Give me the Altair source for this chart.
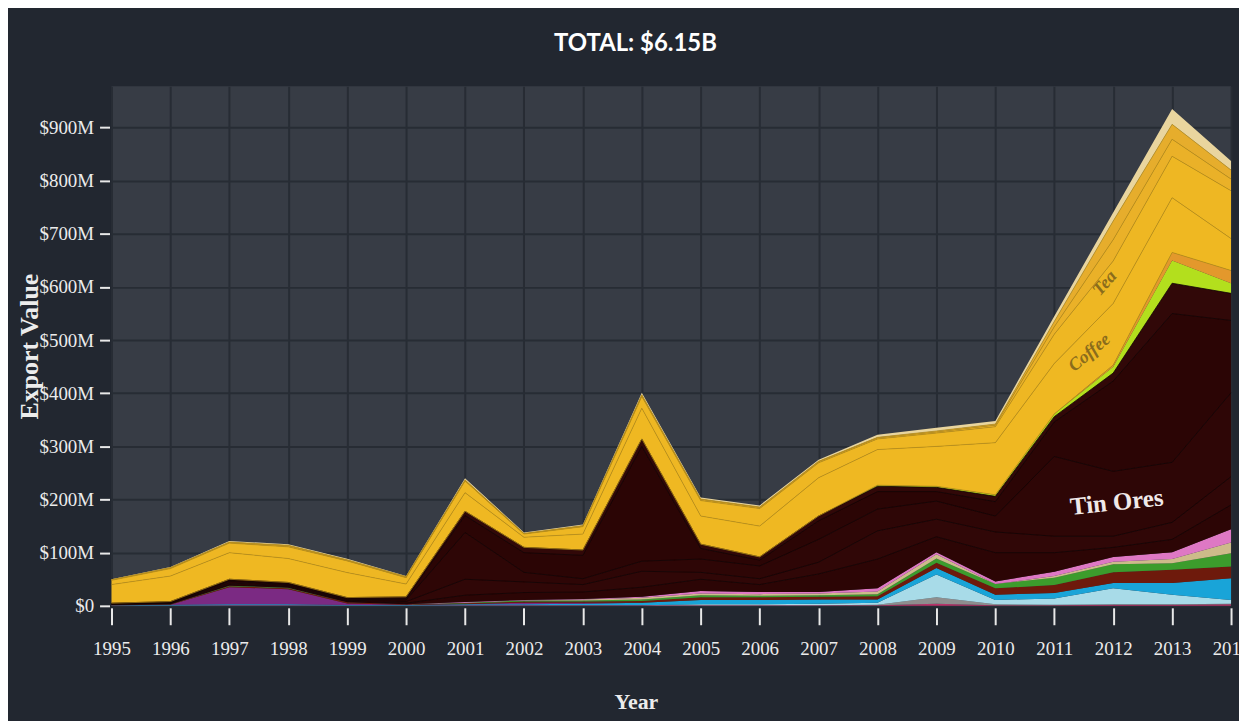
import altair as alt
import pandas as pd

years = list(range(1995, 2015))

# ---- series (bottom -> top of the stack), values in $M ----
series_names = [
    "Hides and Skins", "Scrap Metal", "Electrical Machinery", "Refined Petroleum",
    "Pyrethrum Extract", "Beer", "Live Animals", "Vegetables", "Cut Flowers",
    "Niobium, Tantalum, Vanadium and Zirconium Ores", "Tungsten Ores", "Tin Ores",
    "Gold", "Other Ores",
    "Wheat Flours", "Dried Legumes", "Coffee", "Tea",
    "Other Agricultural", "Other Foodstuffs", "Raw Sugar",
]
series_colors = [
    "#b8336a", "#8e8e8e", "#a8dbe8", "#19a4d8",
    "#7b2a83", "#6e1a0c", "#3c9c2c", "#cdbb8a", "#de78c4",
    "#2c0505", "#300707", "#2e0606", "#2b0505", "#310808",
    "#b3df1d", "#e3982c", "#efb822", "#eeb723",
    "#eab128", "#e6ad2c", "#e9d59e",
]

hides       = [0.5, 0.5, 1, 1, 0.5, 0.5, 1, 1, 1, 1, 1, 1, 1, 1, 4, 1, 1, 2, 2, 3]
scrap       = [0, 0, 0, 0, 0, 0, 0, 0, 0, 0, 0, 0, 0, 1, 12, 2, 1, 1, 1, 1]
electrical  = [0, 0, 0, 0, 0, 0, 0, 0, 0, 0, 2, 2, 3, 4, 43, 8, 12, 30, 18, 7]
petroleum   = [0.5, 1.5, 2, 2, 1, 1, 2, 2, 3, 5, 8, 8, 8, 6, 12, 10, 10, 10, 22, 41]
pyrethrum   = [0, 0, 32, 28, 3, 0.5, 0, 3, 2, 0, 0, 0, 0, 0, 0, 0, 0, 0, 0, 0]
beer        = [1, 1, 2, 2, 2, 1, 2, 2, 2, 3, 5, 5, 5, 6, 10, 12, 15, 20, 25, 22]
animals     = [0, 0, 1, 1, 0, 0, 1, 2, 2, 3, 4, 3, 3, 4, 8, 8, 14, 15, 12, 25]
vegetables  = [0, 0, 0, 0, 0, 0, 0, 0, 2, 3, 3, 3, 3, 5, 8, 0, 3, 5, 8, 20]
flowers     = [0, 0, 0, 0, 0, 0, 1, 1, 1, 2, 5, 4, 3, 6, 4, 5, 8, 9, 13, 25]
niobium     = [0.5, 1, 2, 2, 2, 2, 13, 14, 13, 18, 22, 14, 34, 55, 29, 54, 36, 18, 24, 46]
tungsten    = [0.5, 1, 3, 2, 2, 3, 30, 20, 14, 30, 13, 11, 22, 53, 33, 39, 31, 21, 32, 53]
tin_ores    = [1, 1, 3, 2, 2, 3, 88, 18, 11, 19, 25, 24, 43, 41, 34, 30, 150, 122, 113, 158]
gold        = [0.5, 1, 2, 2, 2, 3, 32, 37, 44, 216, 20, 11, 35, 33, 18, 27, 65, 170, 280, 136]
other_ores  = [0.5, 1, 2, 2, 1, 3, 8, 10, 10, 14, 8, 6, 9, 10, 8, 10, 10, 15, 57, 51]
wheat_flour = [0, 0, 0, 0, 0, 0, 0, 0, 0, 0, 0, 0, 0, 2, 2, 3, 5, 12, 43, 19]
legumes     = [0, 0, 0, 0, 0, 0, 0, 0, 0, 0, 0, 0, 0, 0, 0, 0, 0, 3, 15, 24]
coffee      = [35, 48, 50, 45, 47, 24, 35, 19, 30, 58, 53, 58, 72, 67, 75, 98, 95, 116, 103, 60]
tea         = [8, 14, 18, 22, 22, 12, 22, 6, 14, 22, 29, 33, 28, 20, 25, 30, 55, 80, 78, 90]
other_agri  = [1, 1, 1, 2, 1, 1, 1, 1, 1, 2, 2, 2, 2, 2, 2, 3, 14, 40, 32, 22]
other_food  = [0, 1, 1, 1, 1, 1, 1, 0, 1, 1, 1, 1, 1, 1, 2, 2, 10, 35, 28, 17]
raw_sugar   = [1, 1, 2, 2, 2, 1, 3, 2, 2, 4, 3, 3, 3, 5, 6, 6, 10, 16, 29, 17]

series_values = [
    hides, scrap, electrical, petroleum, pyrethrum, beer, animals, vegetables, flowers,
    niobium, tungsten, tin_ores, gold, other_ores,
    wheat_flour, legumes, coffee, tea, other_agri, other_food, raw_sugar,
]

y_ticks = [0, 100, 200, 300, 400, 500, 600, 700, 800, 900]

# annotation labels
label_text = ["Tin Ores", "Coffee", "Tea"]
label_year = [2012.06, 2011.6, 2011.86]
label_value = [195, 476, 607]
label_angle = [354, 320, 311]

rows = []
for order, (name, vals) in enumerate(zip(series_names, series_values)):
    for yr, v in zip(years, vals):
        rows.append({"year": yr, "series": name, "value": v, "ord": order})
df = pd.DataFrame(rows)

labels_df = pd.DataFrame({
    "text": label_text, "year": label_year, "value": label_value, "angle": label_angle,
})

x_enc = alt.X(
    "year:Q",
    scale=alt.Scale(domain=[1995, 2014], nice=False, zero=False),
    axis=alt.Axis(
        values=years, format="d", title="Year", grid=True,
        tickSize=17, offset=2, labelPadding=15, labelFlush=False,
        titleX=527, titleY=94, titleBaseline="middle", titleFontSize=22,
    ),
)
y_scale = alt.Scale(domain=[0, 977.5], nice=False)
y_axis = alt.Axis(
    values=y_ticks, title="Export Value", grid=True,
    labelExpr="datum.value == 0 ? '$0' : '$' + datum.value + 'M'",
    tickSize=10, offset=2, labelPadding=6,
    titleX=-80, titleY=261, titleAngle=270, titleBaseline="middle", titleFontSize=26,
)

base = alt.Chart(df).transform_stack(
    stack="value", groupby=["year"], as_=["y0", "y1"],
    sort=[alt.SortField("ord", order="ascending")],
)

areas = base.mark_area(interpolate="linear").encode(
    x=x_enc,
    y=alt.Y("y1:Q", scale=y_scale, axis=y_axis),
    y2="y0:Q",
    color=alt.Color("series:N", scale=alt.Scale(domain=series_names, range=series_colors), legend=None),
    detail="series:N",
)

dark_lines = base.transform_filter(
    (alt.datum.ord >= 9) & (alt.datum.ord <= 13)
).mark_line(strokeWidth=1, color="#120101", opacity=0.8).encode(
    x="year:Q", y="y1:Q", detail="series:N",
)

gold_lines = base.transform_filter(
    (alt.datum.ord >= 15) & (alt.datum.ord <= 19)
).mark_line(strokeWidth=0.9, color="#b88d18", opacity=0.8).encode(
    x="year:Q", y="y1:Q", detail="series:N",
)

tin_label = alt.Chart(labels_df).transform_filter(alt.datum.text == "Tin Ores").mark_text(
    font="Liberation Serif", fontWeight="bold", fontSize=25, color="#f0e9e9",
    align="center", baseline="middle",
).encode(x="year:Q", y="value:Q", text="text:N", angle=alt.Angle("angle:Q", scale=None))

crop_labels = alt.Chart(labels_df).transform_filter(alt.datum.text != "Tin Ores").mark_text(
    font="Liberation Serif", fontWeight="bold", fontStyle="italic", fontSize=18, color="#8a6c1c",
    align="center", baseline="middle",
).encode(x="year:Q", y="value:Q", text="text:N", angle=alt.Angle("angle:Q", scale=None))

chart = alt.layer(areas, dark_lines, gold_lines, tin_label, crop_labels).properties(
    width=1125,
    height=522,
    autosize=alt.AutoSizeParams(type="none"),
    padding={"left": 104, "top": 77, "right": 8, "bottom": 114},
    background="#222730",
    title=alt.TitleParams(
        text="TOTAL: $6.15B", font="Lato", fontWeight="bold", fontSize=24,
        color="#ffffff", anchor="middle", baseline="middle", offset=19, dx=-36,
    ),
).configure_view(
    fill="#373c45", stroke=None,
).configure_axis(
    domain=False,
    gridColor="#272c34", gridWidth=2,
    tickColor="#e8e8e8", tickWidth=2,
    labelColor="#ececec", labelFont="Liberation Serif", labelFontSize=19,
    titleColor="#ececec", titleFont="Liberation Serif", titleFontWeight="bold",
)

chart.save("out.html", embed_options={"renderer": "svg", "actions": False})
